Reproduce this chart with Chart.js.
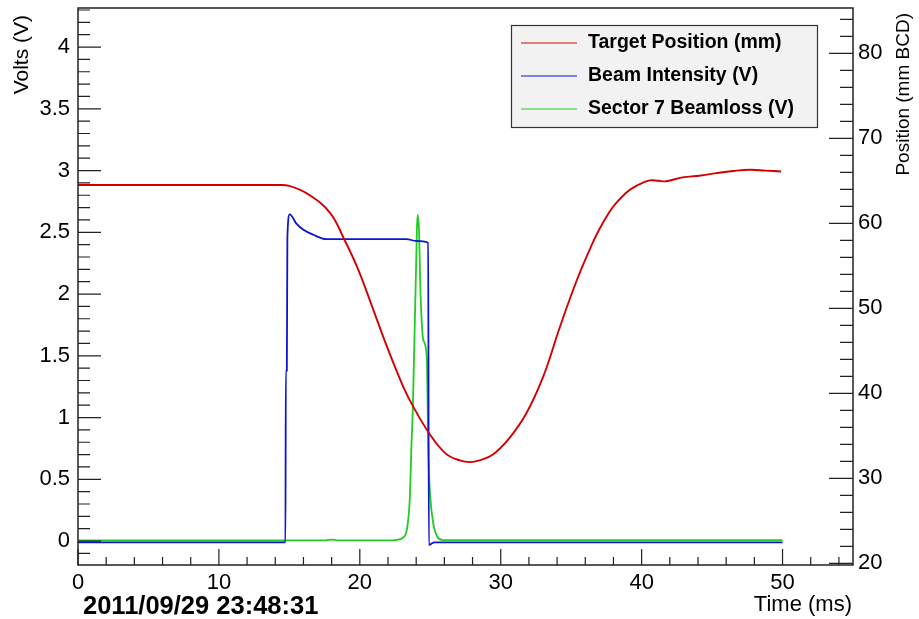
<!DOCTYPE html>
<html><head><meta charset="utf-8">
<script src="https://cdn.jsdelivr.net/npm/chart.js@4.4.1/dist/chart.umd.min.js"></script>
<style>html,body{margin:0;padding:0;background:#fff;overflow:hidden}#wrap{width:919px;height:619px;position:relative}</style>
</head><body><div id="wrap"><canvas id="c" width="919" height="619"></canvas></div>
<script>
// ---- tick labels ----
const timeTicks = [0, 10, 20, 30, 40, 50];
const voltTicks = [0, 0.5, 1, 1.5, 2, 2.5, 3, 3.5, 4];
const posTicks = [20, 30, 40, 50, 60, 70, 80];

// ---- series labels ----
const seriesNames = ['Target Position (mm)', 'Beam Intensity (V)', 'Sector 7 Beamloss (V)'];

// ---- Target position (mm, right axis) ----
const posTime = [0, 5, 10, 14, 15.0, 16.45, 17.9, 18.9, 19.8, 20.7, 21.9, 23.1, 23.8, 25.0, 26.1, 27.1, 27.8, 28.5, 29.45, 30.6, 31.8, 33.0, 34.2, 35.4, 36.5, 37.0, 37.7, 38.2, 38.9, 39.4, 40.1, 40.6, 41.2, 41.75, 42.9, 44.1, 45.3, 46.5, 47.7, 48.8, 49.9];
const posMm   = [64.5, 64.5, 64.5, 64.5, 64.4, 63.3, 61.2, 58.1, 54.9, 51.0, 45.6, 40.7, 38.4, 35.1, 32.9, 32.1, 31.9, 32.1, 32.8, 34.7, 37.6, 41.9, 47.8, 53.3, 57.6, 59.3, 61.3, 62.4, 63.6, 64.2, 64.8, 65.05, 65.0, 64.95, 65.4, 65.6, 65.9, 66.15, 66.3, 66.2, 66.1];

// ---- Beam intensity (V, left axis) ----
const beamTime  = [0, 14.72, 14.75, 14.82, 14.86, 15.03, 15.5, 16.0, 16.7, 17.6, 20, 23.3, 24.0, 24.85, 24.9, 24.95, 25.1, 25.3, 30, 40, 50];
const beamVolts = [-0.01, -0.01, 1.38, 1.38, 2.46, 2.645, 2.57, 2.52, 2.48, 2.445, 2.445, 2.445, 2.43, 2.415, -0.03, -0.03, -0.02, -0.01, -0.01, -0.01, -0.01];

// ---- Sector 7 beamloss (V, left axis) ----
const lossTime  = [0, 17.6, 18.0, 18.4, 22.0, 22.6, 23.1, 23.35, 23.55, 23.66, 23.77, 23.9, 24.0, 24.05, 24.1, 24.2, 24.3, 24.4, 24.5, 24.75, 24.87, 25.0, 25.2, 25.5, 25.9, 30, 40, 50];
const lossVolts = [0.005, 0.005, 0.012, 0.005, 0.005, 0.01, 0.03, 0.1, 0.35, 0.76, 1.11, 1.76, 2.25, 2.52, 2.64, 2.52, 2.03, 1.76, 1.63, 1.49, 0.68, 0.36, 0.15, 0.035, 0.008, 0.008, 0.008, 0.008];

const FONT = "'Liberation Sans', Arial, Helvetica, sans-serif";
const colors = ['#d40000', '#0a14d2', '#22cc22'];

function pts(xs, ys) { return xs.map((x, i) => ({x: x, y: ys[i]})); }
function noPad(s) { s.paddingTop = 0; s.paddingBottom = 0; s.paddingLeft = 0; s.paddingRight = 0; }

const framePlugin = {
  id: 'rootFrame',
  afterDatasetsDraw(chart) {
    const ctx = chart.ctx, a = chart.chartArea;
    const sx = chart.scales.x, sy = chart.scales.y, sy2 = chart.scales.y2;
    ctx.save();
    ctx.strokeStyle = '#222';
    ctx.lineWidth = 1.5;
    ctx.strokeRect(a.left, a.top, a.right - a.left, a.bottom - a.top);
    ctx.lineWidth = 1.2;
    ctx.beginPath();
    for (let i = 0; i <= 27; i++) {
      const v = i * 2;
      const px = sx.getPixelForValue(v);
      const len = (v % 10 === 0) ? 16 : 8;
      ctx.moveTo(px, a.bottom); ctx.lineTo(px, a.bottom - len);
    }
    for (let i = -1; i <= 43; i++) {
      const v = i / 10;
      const py = sy.getPixelForValue(v);
      const len = (i % 5 === 0) ? 23 : 12;
      ctx.moveTo(a.left, py); ctx.lineTo(a.left + len, py);
    }
    for (let v = 20; v <= 85; v += 2) {
      const py = sy2.getPixelForValue(v);
      const len = (v % 10 === 0) ? 24 : 13;
      ctx.moveTo(a.right, py); ctx.lineTo(a.right - len, py);
    }
    ctx.stroke();
    ctx.restore();
  },
  afterDraw(chart) {
    const ctx = chart.ctx;
    ctx.save();
    ctx.fillStyle = '#000';
    ctx.textBaseline = 'middle';
    ctx.font = '21px ' + FONT;
    ctx.save(); ctx.translate(22, 15); ctx.rotate(-Math.PI / 2);
    ctx.textAlign = 'right'; ctx.fillText('Volts (V)', 0, 0); ctx.restore();
    ctx.font = '19px ' + FONT;
    ctx.save(); ctx.translate(904, 13); ctx.rotate(-Math.PI / 2);
    ctx.textAlign = 'right'; ctx.fillText('Position (mm BCD)', 0, 0); ctx.restore();
    ctx.font = '22px ' + FONT;
    ctx.textAlign = 'right'; ctx.textBaseline = 'alphabetic';
    ctx.fillText('Time (ms)', 852, 611);
    ctx.font = 'bold 25.5px ' + FONT;
    ctx.textAlign = 'left';
    ctx.fillText('2011/09/29 23:48:31', 83, 614);
    const bx = 511, by = 25, bw = 306, bh = 102;
    ctx.fillStyle = '#f2f2f2';
    ctx.fillRect(bx, by, bw, bh);
    ctx.strokeStyle = '#333'; ctx.lineWidth = 1.2;
    ctx.strokeRect(bx + 0.5, by + 0.5, bw, bh);
    const rows = [43, 76, 109];
    ctx.font = 'bold 19.5px ' + FONT;
    ctx.textBaseline = 'middle'; ctx.textAlign = 'left';
    chart.data.datasets.forEach((ds, i) => {
      ctx.strokeStyle = ds.borderColor; ctx.lineWidth = 1.2;
      ctx.beginPath(); ctx.moveTo(521, rows[i]); ctx.lineTo(577, rows[i]); ctx.stroke();
      ctx.fillStyle = '#000';
      ctx.fillText(ds.label, 588, rows[i]);
    });
    ctx.restore();
  }
};

new Chart(document.getElementById('c'), {
  type: 'line',
  data: {
    datasets: [
      { label: seriesNames[0], data: pts(posTime, posMm), yAxisID: 'y2', borderColor: colors[0], borderWidth: 1.9, pointRadius: 0, tension: 0.4, fill: false },
      { label: seriesNames[1], data: pts(beamTime, beamVolts), yAxisID: 'y', borderColor: colors[1], borderWidth: 1.8, pointRadius: 0, cubicInterpolationMode: 'monotone', fill: false },
      { label: seriesNames[2], data: pts(lossTime, lossVolts), yAxisID: 'y', borderColor: colors[2], borderWidth: 1.8, pointRadius: 0, cubicInterpolationMode: 'monotone', fill: false }
    ]
  },
  options: {
    responsive: false,
    devicePixelRatio: 1,
    animation: false,
    layout: { padding: { top: 8, left: 0, right: 0, bottom: 0 } },
    plugins: { legend: { display: false }, tooltip: { enabled: false } },
    scales: {
      x: {
        type: 'linear', position: 'bottom', min: 0, max: 55,
        grid: { display: false, drawTicks: false }, border: { display: false },
        afterBuildTicks: s => { s.ticks = timeTicks.map(v => ({value: v})); },
        afterFit: s => { s.height = 54; noPad(s); },
        ticks: { padding: 5, maxRotation: 0, color: '#000', font: { family: FONT, size: 22 }, callback: v => String(v) }
      },
      y: {
        type: 'linear', position: 'left', min: -0.194, max: 4.316,
        grid: { display: false, drawTicks: false }, border: { display: false },
        afterBuildTicks: s => { s.ticks = voltTicks.map(v => ({value: v})); },
        afterFit: s => { s.width = 78; noPad(s); },
        ticks: { padding: 8, color: '#000', font: { family: FONT, size: 22 }, callback: v => String(v) }
      },
      y2: {
        type: 'linear', position: 'right', min: 19.8, max: 85.33,
        grid: { display: false, drawTicks: false }, border: { display: false },
        afterBuildTicks: s => { s.ticks = posTicks.map(v => ({value: v})); },
        afterFit: s => { s.width = 66; noPad(s); },
        ticks: { padding: 5, color: '#000', font: { family: FONT, size: 22 }, callback: v => String(v) }
      }
    }
  },
  plugins: [framePlugin]
});
</script>
</body></html>
